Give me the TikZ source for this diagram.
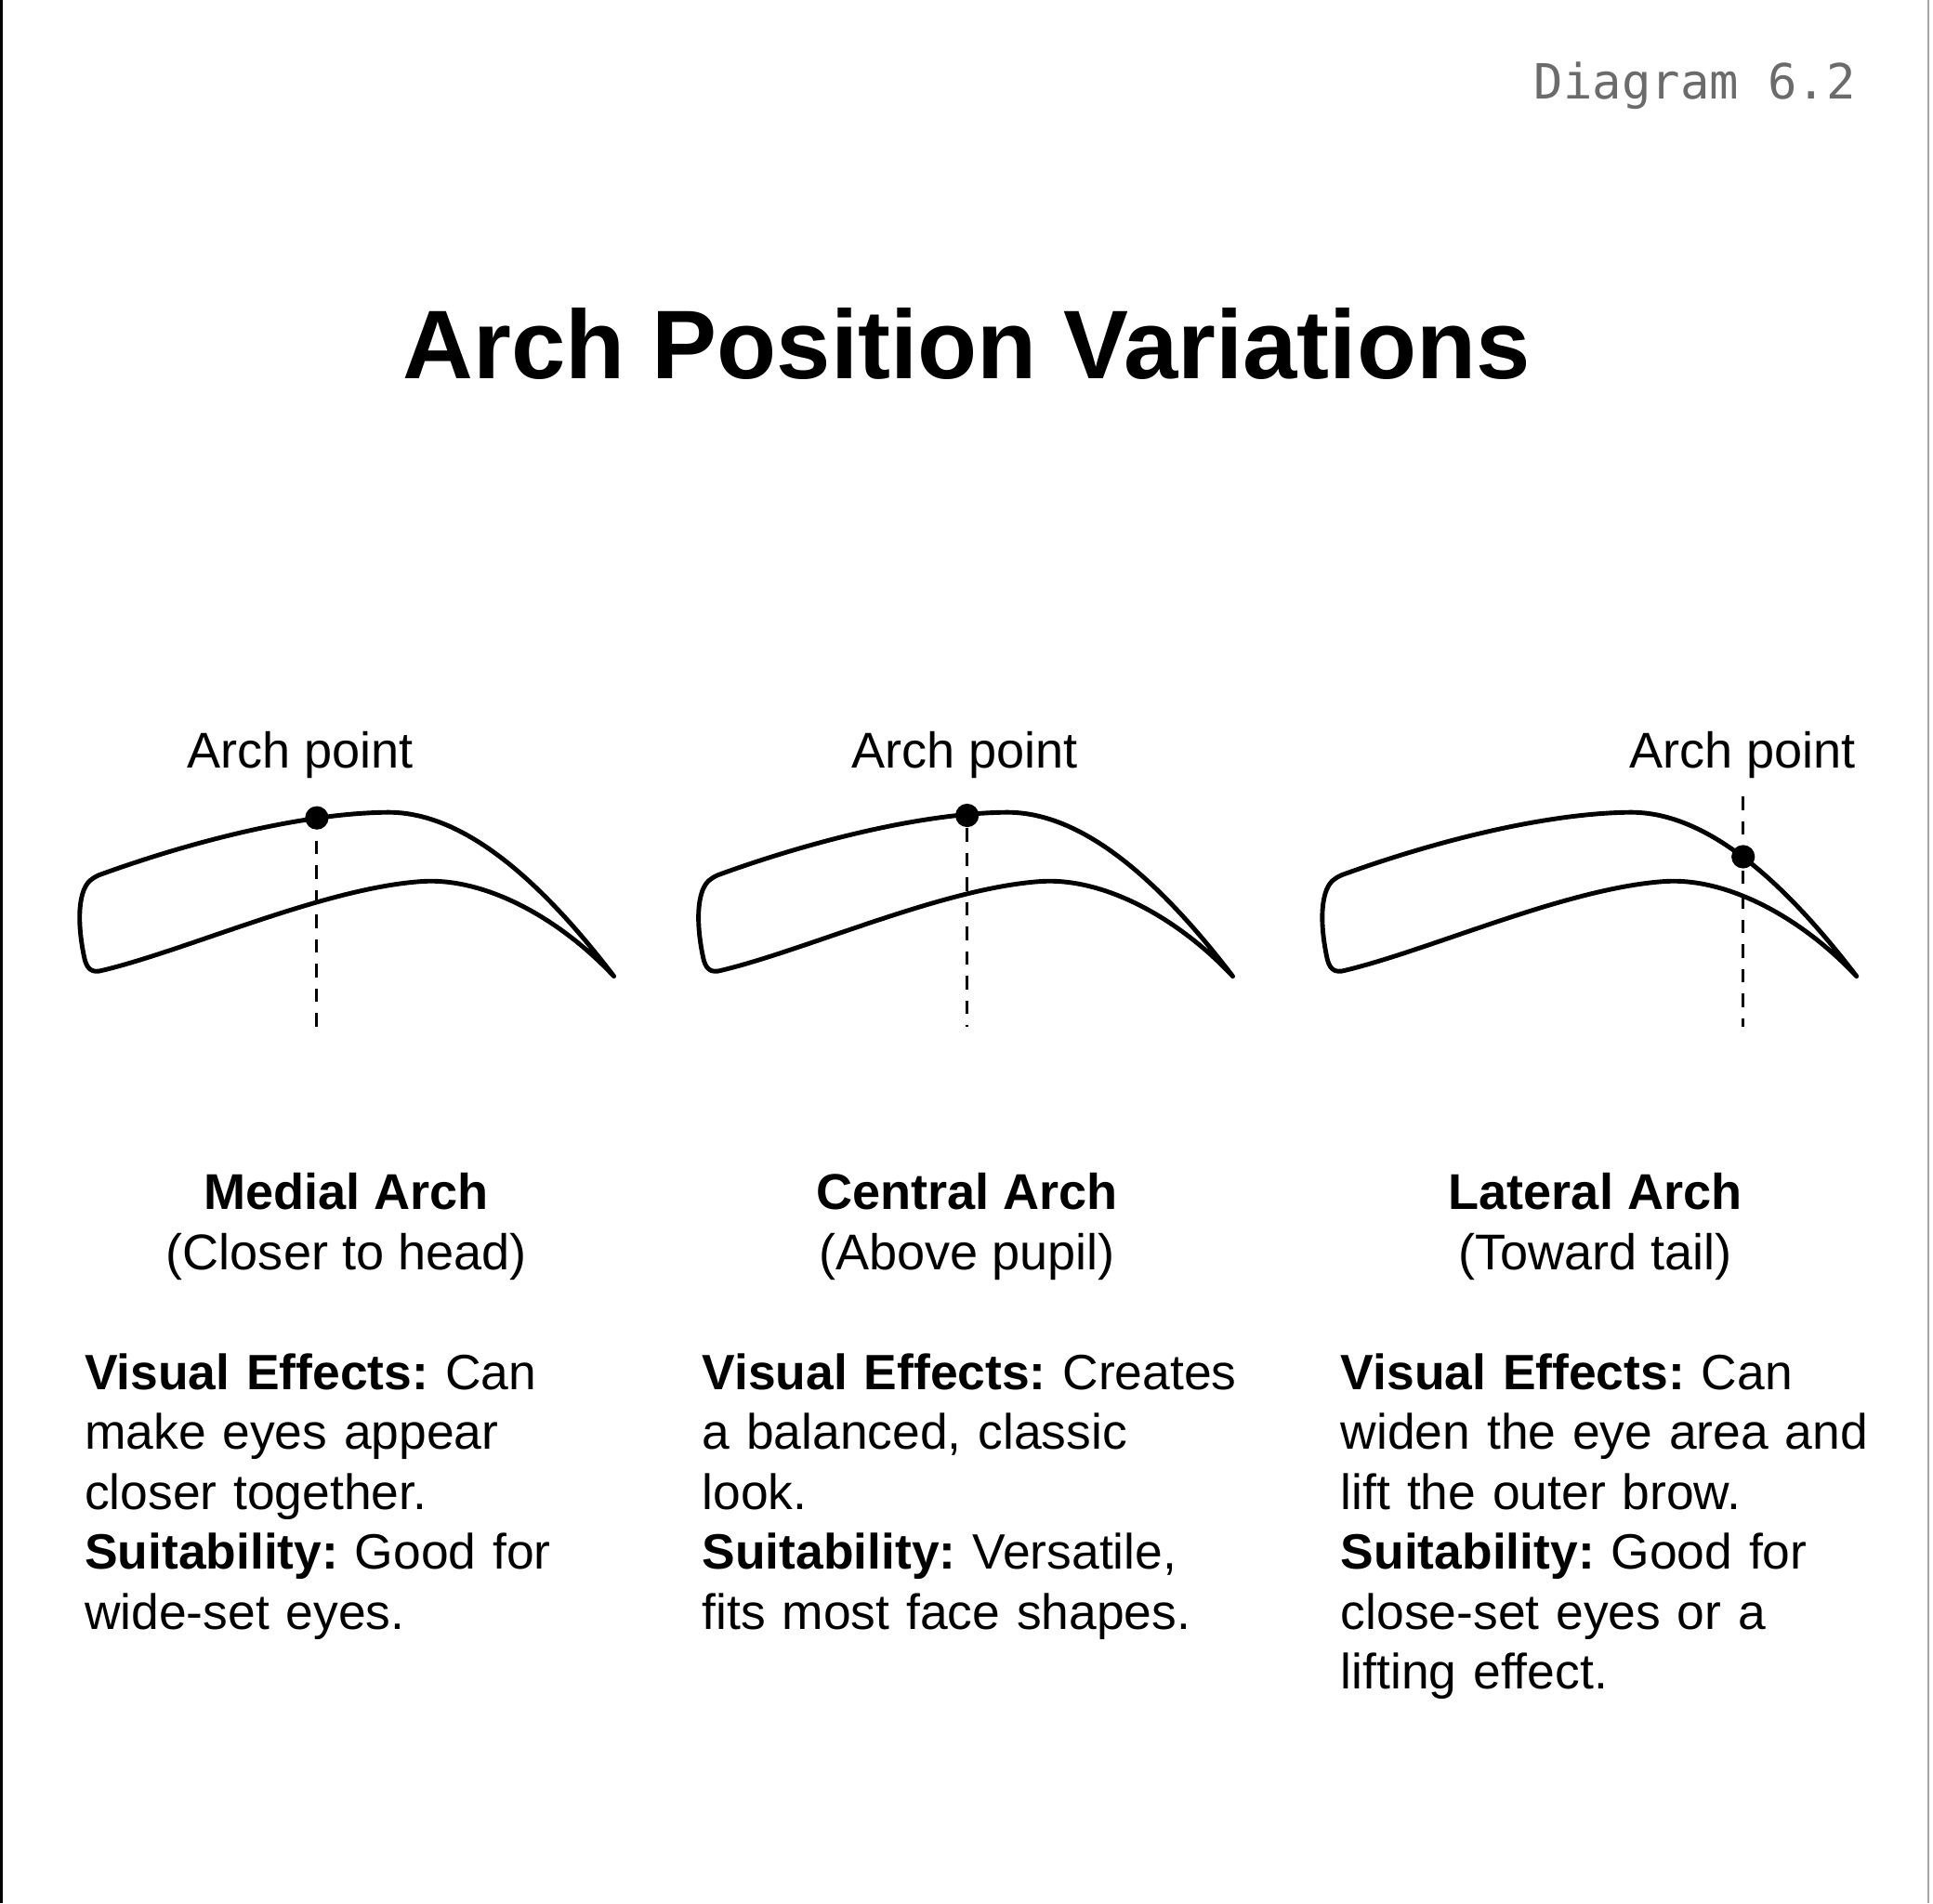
\documentclass[tikz,border=0pt]{standalone}
\usepackage{fontspec}
\setmainfont{Liberation Sans}
\newfontfamily\tagfont{DejaVu Sans Mono}
\usetikzlibrary{positioning}
\frenchspacing

\begin{document}
\begin{tikzpicture}[x=0.01cm,y=-0.01cm,
      brow/.style={line width=1.05pt,line join=round,line cap=round},
      archdot/.style={circle,fill=black,inner sep=0pt,minimum size=0.19cm},
      guide/.style={line width=0.65pt,dash pattern=on 0.11cm off 0.09cm},
      ptlabel/.style={anchor=base,inner sep=0pt,font=\fontsize{11.6}{13.9}\selectfont},
      head/.style={anchor=base,inner sep=0pt,font=\fontsize{11.6}{13.9}\selectfont},
      body/.style={anchor=base west,inner sep=0pt,align=left,text width=4.7cm,
        font=\fontsize{11.45}{13.83}\selectfont},
    ]
    \path[use as bounding box] (0,0) rectangle (1568,1544);
    \draw[line width=0.9pt] (1,0) -- (1,1544);
    \draw[black!35,line width=0.4pt] (1564,0) -- (1564,1544);

    \node[anchor=base east,inner sep=0pt,text=black!58,
      font=\tagfont\fontsize{11.2}{13}\selectfont] (tag) at (1506,80) {Diagram 6.2};
    \node[anchor=base,inner sep=0pt,font=\bfseries\fontsize{22.5}{26}\selectfont]
      (title) at (784,307) {Arch Position Variations};

    % the three brows, same outline
    \foreach \bx in {64,566,1072} {
        \draw[brow,shift={(\bx,0)}] (16,710)
            .. controls (90,683) and (180,660) .. (249,659)
            .. controls (300,658) and (360,695) .. (434,792)
            .. controls (390,745) and (330,712) .. (279,715)
            .. controls (200,720) and (90,770) .. (20,787)
            .. controls (10,790) and (6,786) .. (4,775)
            .. controls (0,755) and (-1,735) .. (4,722)
            .. controls (7,715) and (10,713) .. (16,710) -- cycle;
    }

    \coordinate (foot1) at (257,833);
    \coordinate (foot2) at (784.5,833);
    \coordinate (top3) at (1414,646);
    \coordinate (foot3) at (1414,833);
    \draw[guide] (top3) -- (foot3);
    \node[archdot] (pt1) at (257,663.5) {};
    \node[archdot] (pt2) at (784.5,661.5) {};
    \node[archdot] (pt3) at (1414,695) {};
    \draw[guide] (foot1) -- (pt1);
    \draw[guide] (pt2) -- (foot2);

    \node[ptlabel] (lbl1) at (243.5,623) {Arch point};
    \node[ptlabel] (lbl2) at (782.5,623) {Arch point};
    \node[ptlabel,anchor=base east] (lbl3) at (1506,623) {Arch point};

    \node[head] (medial) at (281,981) {\textbf{Medial Arch}};
    \node[head] (medialsub) at ([yshift=-0.49cm]medial.base) {(Closer to head)};
    \node[head] (central) at (784.5,981) {\textbf{Central Arch}};
    \node[head] (centralsub) at ([yshift=-0.49cm]central.base) {(Above pupil)};
    \node[head] (lateral) at (1294,981) {\textbf{Lateral Arch}};
    \node[head] (lateralsub) at ([yshift=-0.49cm]lateral.base) {(Toward tail)};

    \node[body] (medialtxt) at (68,1127) {\textbf{Visual Effects:} Can\\
        make eyes appear\\ closer together.\\
        \textbf{Suitability:} Good for\\ wide-set eyes.};
    \node[body] (centraltxt) at (569,1127) {\textbf{Visual Effects:} Creates\\
        a balanced, classic\\ look.\\
        \textbf{Suitability:} Versatile,\\ fits most face shapes.};
    \node[body] (lateraltxt) at (1087,1127) {\textbf{Visual Effects:} Can\\
        widen the eye area and\\ lift the outer brow.\\
        \textbf{Suitability:} Good for\\ close-set eyes or a\\ lifting effect.};
\end{tikzpicture}
\end{document}
